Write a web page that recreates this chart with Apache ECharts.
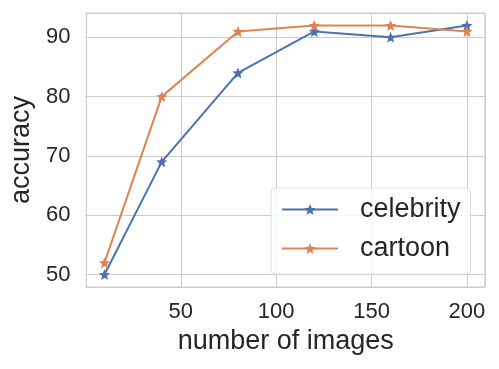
<!DOCTYPE html>
<html>
<head>
<meta charset="utf-8">
<script src="https://cdn.jsdelivr.net/npm/echarts@6/dist/echarts.min.js"></script>
<style>
html,body{margin:0;padding:0;background:#fff;}
#chart{width:499px;height:369px;}
</style>
</head>
<body>
<div id="chart"></div>
<script>
var numImages = [10, 40, 80, 120, 160, 200];
var celebrity = [50, 69, 84, 91, 90, 92];
var cartoon = [52, 80, 91, 92, 92, 91];
var seriesNames = ['celebrity', 'cartoon'];

var textColor = '#262626';
var gridColor = '#cccccc';
var fontFam = '"Liberation Sans", Arial, sans-serif';
// matplotlib style star marker
var star = 'path://M0,-10 L2.6,-3.6 L9.51,-3.09 L4.2,1.4 L5.88,8.09 L0,4.4 L-5.88,8.09 L-4.2,1.4 L-9.51,-3.09 L-2.6,-3.6 Z';

function pairs(xs, ys){
	var out = [];
	for(var i=0;i<xs.length;i++){
		out.push([xs[i], ys[i]]);
	}
	return out;
}

function tens(v){
	return (Math.abs(v % 10) < 1e-6) ? String(v) : '';
}

var chart = echarts.init(document.getElementById('chart'));
var option = {
	backgroundColor: '#fff',
	animation: false,
	grid: {
		left: 86, right: 14, top: 13, bottom: 82,
		show: true,
		borderColor: gridColor,
		borderWidth: 1.25
	},
	legend: {
		left: 271, top: 188,
		orient: 'vertical',
		data: seriesNames,
		itemWidth: 56,
		itemHeight: 14,
		itemGap: 8,
		padding: [6, 10, 10, 10],
		backgroundColor: 'rgba(255,255,255,0.8)',
		borderColor: '#dddddd',
		borderWidth: 1,
		borderRadius: 4,
		textStyle: {
			fontSize: 27,
			lineHeight: 31,
			color: textColor,
			fontFamily: fontFam,
			padding: [0, 0, 0, 17]
		}
	},
	xAxis: {
		type: 'value',
		min: 0.5,
		max: 209.5,
		name: 'number of images',
		nameLocation: 'middle',
		nameGap: 34,
		nameTextStyle: {fontSize: 27, color: textColor, fontFamily: fontFam},
		axisLine: {show: false},
		axisTick: {show: false},
		axisLabel: {
			fontSize: 22, color: textColor, fontFamily: fontFam, margin: 14,
			showMinLabel: false, showMaxLabel: false,
			formatter: function(v){ return (Math.abs(v % 50) < 1e-6) ? String(v) : ''; }
		},
		splitLine: {show: true, lineStyle: {color: gridColor, width: 1}}
	},
	yAxis: {
		type: 'value',
		min: 47.9,
		max: 94.1,
		name: 'accuracy',
		nameLocation: 'middle',
		nameGap: 50,
		nameTextStyle: {fontSize: 27, color: textColor, fontFamily: fontFam},
		axisLine: {show: false},
		axisTick: {show: false},
		axisLabel: {
			fontSize: 22, color: textColor, fontFamily: fontFam, margin: 16,
			showMinLabel: false, showMaxLabel: false,
			formatter: tens
		},
		splitLine: {show: true, lineStyle: {color: gridColor, width: 1}}
	},
	series: [
		{
			name: seriesNames[0],
			type: 'line',
			data: pairs(numImages, celebrity),
			symbol: star,
			symbolSize: 11,
			color: '#4c72b0',
			lineStyle: {width: 2},
			z: 3
		},
		{
			name: seriesNames[1],
			type: 'line',
			data: pairs(numImages, cartoon),
			symbol: star,
			symbolSize: 11,
			color: '#dd8452',
			lineStyle: {width: 2},
			z: 4
		}
	]
};
chart.setOption(option);
</script>
</body>
</html>
